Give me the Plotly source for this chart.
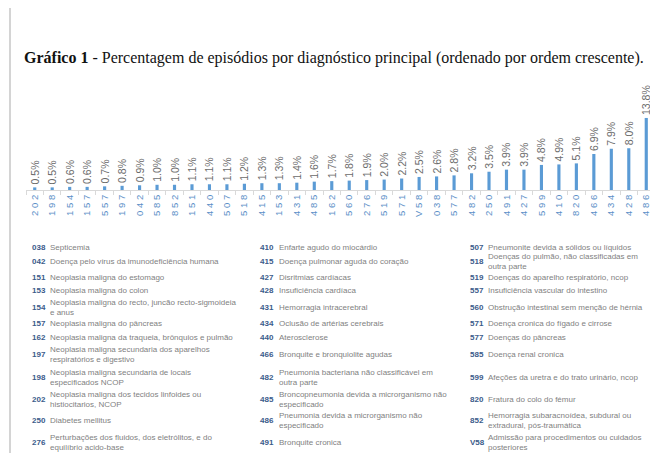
import plotly.graph_objects as go

# ---- data ----
codes = ["202", "198", "154", "157", "557", "197", "042", "585", "852", "151", "440", "507",
         "518", "415", "153", "431", "485", "162", "560", "276", "519", "571", "V58", "038",
         "577", "482", "250", "491", "427", "599", "410", "820", "466", "434", "428", "486"]
pct = [0.5, 0.5, 0.6, 0.6, 0.7, 0.8, 0.9, 1.0, 1.0, 1.1, 1.1, 1.1,
       1.2, 1.3, 1.3, 1.4, 1.6, 1.7, 1.8, 1.9, 2.0, 2.2, 2.5, 2.6,
       2.8, 3.2, 3.5, 3.9, 3.9, 4.8, 4.9, 5.1, 6.9, 7.9, 8.0, 13.8]

title_bold = "Gráfico 1"
title_rest = " - Percentagem de episódios por diagnóstico principal (ordenado por ordem crescente)."

col1_codes = ["038", "042", "151", "153", "154", "157", "162", "197", "198", "202", "250", "276"]
col1_desc = ["Septicemia",
             "Doença pelo vírus da imunodeficiência humana",
             "Neoplasia maligna do estomago",
             "Neoplasia maligna do colon",
             "Neoplasia maligna do recto, juncão recto-sigmoideia<br>e anus",
             "Neoplasia maligna do pâncreas",
             "Neoplasia maligna da traqueia, brônquios e pulmão",
             "Neoplasia maligna secundaria dos aparelhos<br>respiratórios e digestivo",
             "Neoplasia maligna secundaria de locais<br>especificados NCOP",
             "Neoplasia maligna dos tecidos linfoides ou<br>histiocitarios, NCOP",
             "Diabetes mellitus",
             "Perturbações dos fluidos, dos eletrólitos, e do<br>equilíbrio acido-base"]
col2_codes = ["410", "415", "427", "428", "431", "434", "440", "466", "482", "485", "486", "491"]
col2_desc = ["Enfarte agudo do miocárdio",
             "Doença pulmonar aguda do coração",
             "Disritmias cardíacas",
             "Insuficiência cardíaca",
             "Hemorragia intracerebral",
             "Oclusão de artérias cerebrais",
             "Aterosclerose",
             "Bronquite e bronquiolite agudas",
             "Pneumonia bacteriana não classificável em<br>outra parte",
             "Broncopneumonia devida a microrganismo não<br>especificado",
             "Pneumonia devida a microrganismo não<br>especificado",
             "Bronquite cronica"]
col3_codes = ["507", "518", "519", "557", "560", "571", "577", "585", "599", "820", "852", "V58"]
col3_desc = ["Pneumonite devida a sólidos ou líquidos",
             "Doenças do pulmão, não classificadas em<br>outra parte",
             "Doenças do aparelho respiratório, ncop",
             "Insuficiência vascular do intestino",
             "Obstrução intestinal sem menção de hérnia",
             "Doença cronica do fígado e cirrose",
             "Doenças do pâncreas",
             "Doença renal cronica",
             "Afeções da uretra e do trato urinário, ncop",
             "Fratura do colo do fémur",
             "Hemorragia subaracnoídea, subdural ou<br>extradural, pós-traumática",
             "Admissão para procedimentos ou cuidados<br>posteriores"]

# ---- layout geometry (pixels) ----
W, H = 658, 453
L, R, T, B = 18, 11, 70, 271
PW = W - L - R
PH = H - T - B
px_per_pct = 5.22
ymax = PH / px_per_pct


def fx(px):
    return (px - L) / PW


def fy(py):
    return (H - B - py) / PH


row_y = [239, 253.5, 269, 282, 299.5, 315.5, 329.5, 346, 369.5, 391, 412, 434.5]

fig = go.Figure()
fig.add_trace(go.Bar(
    x=codes, y=pct,
    marker=dict(color="#5B9BD5", line=dict(width=0)),
    width=0.18,
    texttemplate="\u00a0%{y:.1f}%",
    textposition="outside",
    textangle=-90,
    constraintext="none",
    cliponaxis=False,
    textfont=dict(family="Liberation Sans, Arial", size=10.5, color="#6b6b6b"),
    hoverinfo="skip",
))

annotations = []
annotations.append(dict(
    xref="paper", yref="paper", x=fx(14), y=fy(50), xanchor="left", yanchor="middle",
    text="<b>" + title_bold + "</b>" + title_rest, showarrow=False,
    font=dict(family="Liberation Serif, DejaVu Serif, serif", size=16, color="#111111"),
))

code_font = dict(family="Liberation Sans, Arial", size=8, color="#3b5b8a")
desc_font = dict(family="Liberation Sans, Arial", size=8, color="#7f7f7f")
for cx, dx, cs, ds in [(22, 40, col1_codes, col1_desc),
                       (250, 269, col2_codes, col2_desc),
                       (460, 478, col3_codes, col3_desc)]:
    for c, d, yy in zip(cs, ds, row_y):
        annotations.append(dict(xref="paper", yref="paper", x=fx(cx), y=fy(yy),
                                xanchor="left", yanchor="middle", showarrow=False,
                                text="<b>" + c + "</b>", font=code_font))
        annotations.append(dict(xref="paper", yref="paper", x=fx(dx), y=fy(yy),
                                xanchor="left", yanchor="middle", showarrow=False,
                                align="left", text=d, font=desc_font))

shapes = [
    dict(type="line", xref="paper", yref="paper", x0=fx(2), x1=fx(2), y0=fy(0), y1=fy(H),
         line=dict(color="#d4d4d4", width=2)),
    dict(type="line", xref="paper", yref="paper", x0=fx(650), x1=fx(650), y0=fy(0), y1=fy(H),
         line=dict(color="#d4d4d4", width=2)),
]

fig.update_layout(
    width=W, height=H,
    margin=dict(l=L, r=R, t=T, b=B, autoexpand=False),
    paper_bgcolor="white", plot_bgcolor="white",
    showlegend=False,
    annotations=annotations,
    shapes=shapes,
    xaxis=dict(
        type="category",
        tickvals=codes,
        ticktext=[" ".join(c) for c in codes],
        tickangle=-90,
        tickfont=dict(family="Liberation Sans, Arial", size=9.5, color="#5B8FC7"),
        showline=True, linecolor="#d9d9d9", linewidth=1,
        ticks="outside", tickson="boundaries", ticklen=4, tickcolor="#d9d9d9",
        showgrid=False, zeroline=False, automargin=False,
        range=[-0.5, len(codes) - 0.5],
    ),
    yaxis=dict(visible=False, range=[0, ymax], showgrid=False, zeroline=False),
)

fig.write_html("out.html")
